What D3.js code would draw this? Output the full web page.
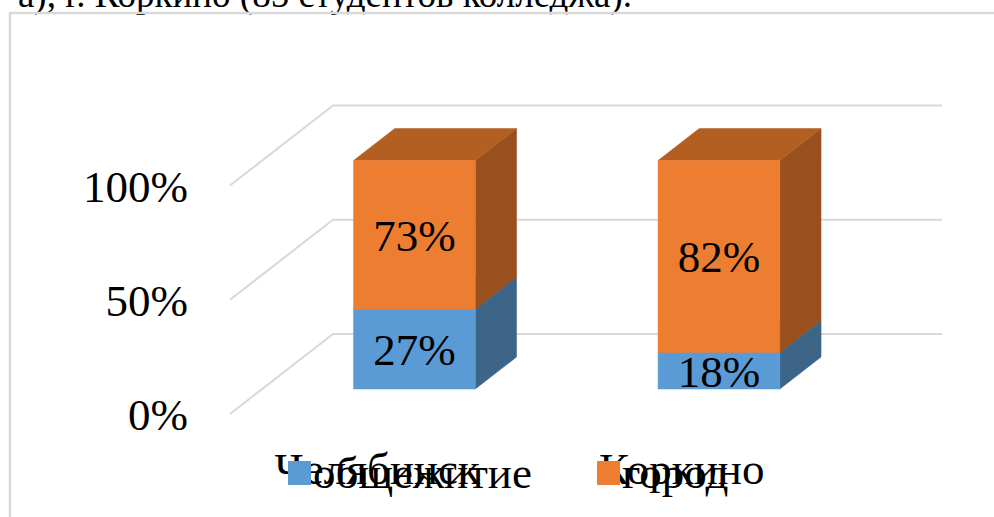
<!DOCTYPE html>
<html>
<head>
<meta charset="utf-8">
<script src="https://cdn.jsdelivr.net/npm/d3@7"></script>
<style>
  html, body { margin: 0; padding: 0; background: #fff; overflow: hidden; }
  svg { display: block; }
  text { font-family: "Times New Roman", "Liberation Serif", serif; fill: #000; }
</style>
</head>
<body>
<svg id="chart" width="994" height="517"></svg>
<script>
// ---- data ----
const categories = ["Челябинск", "Коркино"];
const seriesNames = ["общежитие", "город"];
const dormValues = [0.35, 0.16];      // bar heights as drawn
const cityValues = [0.65, 0.84];
const dormLabels = ["27%", "18%"];    // data labels as printed
const cityLabels = ["73%", "82%"];
const tickValues = [0, 0.5, 1];
const tickLabels = ["0%", "50%", "100%"];
const captionText = "а), г. Коркино (85 студентов колледжа).";

const frontColors = ["#5B9BD5", "#ED7D31"];
const topColors = ["#4A7DAE", "#B45F22"];
const sideColors = ["#3C6588", "#9A4F1E"];

const svg = d3.select("#chart");

// caption (cut off by the top edge)
svg.append("text").attr("x", 632).attr("y", 7).attr("text-anchor", "end")
  .style("font-size", "37px").text(captionText);

// chart frame
svg.append("path").attr("d", "M10,517 V13 H1000")
  .attr("fill", "none").attr("stroke", "#d9d9d9").attr("stroke-width", 2.5);

// ---- scales (back wall coordinates + oblique depth) ----
const x = d3.scaleBand().domain(categories).range([333, 942]).paddingInner(0.6).paddingOuter(0.3);
const y = d3.scaleLinear().domain([0, 1]).range([334, 105.5]);
const DX = 103, DY = 80;
const proj = (xb, v, t) => [xb - DX * t, y(v) + DY * t];
const tFront = 0.6875, tBack = 0.2875;

// gridlines
const grid = svg.append("g");
tickValues.forEach(v => {
  const pts = [[942, y(v)], [333, y(v)], proj(333, v, 1)];
  grid.append("path").attr("d", d3.line()(pts))
    .attr("fill", "none").attr("stroke", "#d9d9d9").attr("stroke-width", 2);
});

// y tick labels
tickValues.forEach((v, i) => {
  const p = proj(333, v, 1);
  svg.append("text").attr("x", 188).attr("y", p[1] + 16)
    .attr("text-anchor", "end").style("font-size", "45px").text(tickLabels[i]);
});

// stacked data
const rows = categories.map((c, i) => ({ cat: c, dorm: dormValues[i], city: cityValues[i] }));
const stack = d3.stack().keys(["dorm", "city"])(rows);
const labelSets = [dormLabels, cityLabels];

const bars = svg.append("g");
categories.forEach((c, ci) => {
  const x0 = x(c), x1 = x(c) + x.bandwidth();
  stack.forEach((layer, si) => {
    const v0 = layer[ci][0], v1 = layer[ci][1];
    const side = [proj(x1, v0, tFront), proj(x1, v0, tBack), proj(x1, v1, tBack), proj(x1, v1, tFront)];
    const top = [proj(x0, v1, tFront), proj(x1, v1, tFront), proj(x1, v1, tBack), proj(x0, v1, tBack)];
    const front = [proj(x0, v0, tFront), proj(x1, v0, tFront), proj(x1, v1, tFront), proj(x0, v1, tFront)];
    bars.append("polygon").attr("points", side.join(" ")).attr("fill", sideColors[si])
      .attr("stroke", sideColors[si]).attr("stroke-width", 0.5);
    bars.append("polygon").attr("points", top.join(" ")).attr("fill", topColors[si])
      .attr("stroke", topColors[si]).attr("stroke-width", 0.5);
    bars.append("polygon").attr("points", front.join(" ")).attr("fill", frontColors[si])
      .attr("stroke", frontColors[si]).attr("stroke-width", 0.5);
  });
});

// data labels
categories.forEach((c, ci) => {
  stack.forEach((layer, si) => {
    const v0 = layer[ci][0], v1 = layer[ci][1];
    const cx = proj(x(c) + x.bandwidth() / 2, 0, tFront)[0];
    const cy = (proj(0, v0, tFront)[1] + proj(0, v1, tFront)[1]) / 2;
    svg.append("text").attr("x", cx).attr("y", cy + 16).attr("text-anchor", "middle")
      .style("font-size", "45px").text(labelSets[si][ci]);
  });
});

// category labels
categories.forEach(c => {
  const cx = proj(x(c) + x.bandwidth() / 2, 0, 1)[0] - 5;
  svg.append("text").attr("x", cx).attr("y", 484).attr("text-anchor", "middle")
    .style("font-size", "45px").text(c);
});

// legend
const legendX = [288, 597];
seriesNames.forEach((s, i) => {
  svg.append("rect").attr("x", legendX[i]).attr("y", 461).attr("width", 23).attr("height", 24)
    .attr("fill", frontColors[i]);
  svg.append("text").attr("x", legendX[i] + 25).attr("y", 488)
    .style("font-size", "45px").text(s);
});
</script>
</body>
</html>
